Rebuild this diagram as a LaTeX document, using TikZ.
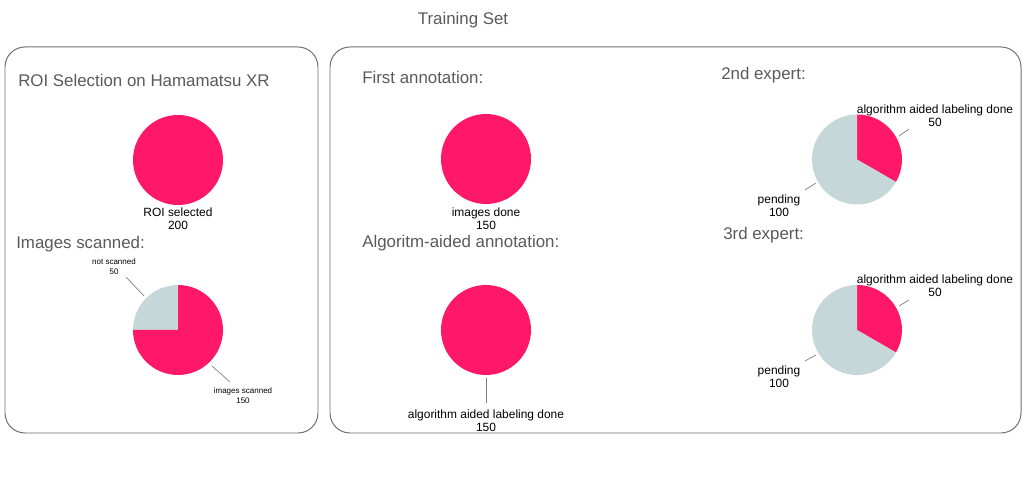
\documentclass[tikz,border=0pt]{standalone}
\usepackage{fontspec}
\setmainfont{Liberation Sans}

\definecolor{DoneColor}{RGB}{255,24,104}
\definecolor{PendingColor}{RGB}{197,215,216}
\definecolor{HeadColor}{RGB}{90,90,90}
\definecolor{FrameColor}{RGB}{110,110,110}

\tikzset{
	panel/.style={draw=FrameColor, line width=0.7pt, rounded corners=0.5cm},
	heading/.style={anchor=west, inner sep=0pt, text=HeadColor, font=\fontsize{12}{14}\selectfont},
	pielabel/.style={align=center, inner sep=0pt, font=\fontsize{8.5}{9.3}\selectfont},
	smalllabel/.style={align=center, inner sep=0pt, font=\fontsize{5.7}{7}\selectfont},
	leader/.style={draw=gray, line width=0.5pt}
}

\begin{document}
\begin{tikzpicture}[x=0.025cm, y=0.025cm]

	\useasboundingbox (0,0) rectangle (1024,503);

	% Main rectangles

	\draw [panel] (5,456) rectangle (318,70);
	\draw [panel] (330,456) rectangle (1021,70);

	% Headings

	\node [heading, anchor=center] (trainingset) at (463,483) {Training Set};
	\node [heading] (roititle) at (18,423) {ROI Selection on Hamamatsu XR};
	\node [heading] (scannedtitle) at (16,259) {Images scanned:};
	\node [heading] (firsttitle) at (362,426) {First annotation:};
	\node [heading] (algotitle) at (362,260) {Algoritm-aided annotation:};
	\node [heading] (secondtitle) at (721,428) {2nd expert:};
	\node [heading] (thirdtitle) at (723,268) {3rd expert:};

	% Pies

	\fill [DoneColor] (178,343) circle (45);

	\fill [PendingColor] (178,173) -- +(90:45) arc (90:180:45) -- cycle;
	\fill [DoneColor] (178,173) -- +(90:45) arc (90:-180:45) -- cycle;

	\fill [DoneColor] (486,344) circle (45);
	\fill [DoneColor] (486,173) circle (45);

	\fill [DoneColor] (857,343.5) -- +(90:45) arc (90:-30:45) -- cycle;
	\fill [PendingColor] (857,343.5) -- +(-30:45) arc (-30:-270:45) -- cycle;

	\fill [DoneColor] (857,173) -- +(90:45) arc (90:-30:45) -- cycle;
	\fill [PendingColor] (857,173) -- +(-30:45) arc (-30:-270:45) -- cycle;

	% Labels

	\node [pielabel] (roilabel) at (178,284) {ROI selected\\200};
	\node [smalllabel] (notscanned) at (114,236) {not scanned\\50};
	\node [smalllabel] (scanned) at (243,107) {images scanned\\150};
	\node [pielabel] (imagesdone) at (486,284) {images done\\150};
	\node [pielabel] (algodone) at (486,82) {algorithm aided labeling done\\150};
	\node [pielabel] (seconddone) at (935,387.5) {algorithm aided labeling done\\50};
	\node [pielabel] (secondpending) at (779,297.5) {pending\\100};
	\node [pielabel] (thirddone) at (935,217.5) {algorithm aided labeling done\\50};
	\node [pielabel] (thirdpending) at (779,126.5) {pending\\100};

	% Leader lines

	\coordinate (notscannedA) at (144,207);
	\coordinate (notscannedB) at (126,226);
	\coordinate (scannedA) at (212,137);
	\coordinate (scannedB) at (230,121);
	\coordinate (algoA) at (486,125);
	\coordinate (algoB) at (486,100);
	\coordinate (seconddoneA) at (899,367);
	\coordinate (seconddoneB) at (909,374);
	\coordinate (secondpendingA) at (816,320);
	\coordinate (secondpendingB) at (805,313);
	\coordinate (thirddoneA) at (899,197);
	\coordinate (thirddoneB) at (909,203);
	\coordinate (thirdpendingA) at (816,148);
	\coordinate (thirdpendingB) at (805,142);

	\draw [leader] (notscannedA) -- (notscannedB);
	\draw [leader] (scannedA) -- (scannedB);
	\draw [leader] (algoA) -- (algoB);
	\draw [leader] (seconddoneA) -- (seconddoneB);
	\draw [leader] (secondpendingA) -- (secondpendingB);
	\draw [leader] (thirddoneA) -- (thirddoneB);
	\draw [leader] (thirdpendingA) -- (thirdpendingB);

\end{tikzpicture}
\end{document}
